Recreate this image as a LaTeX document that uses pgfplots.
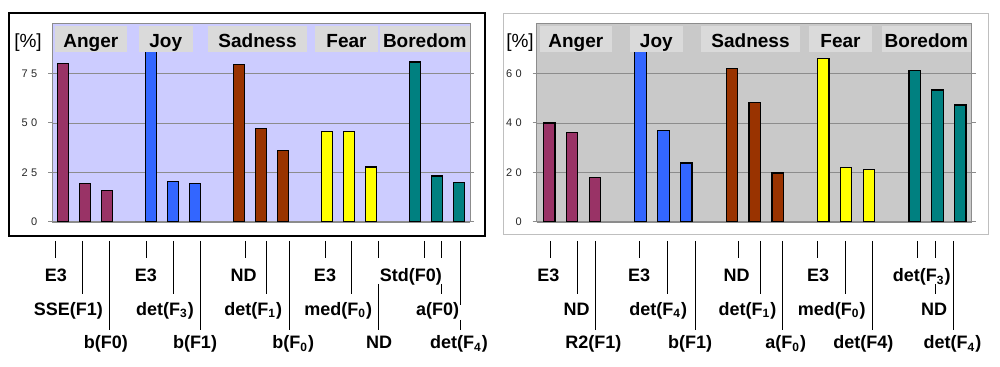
\documentclass[border=0pt]{standalone}
\usepackage{pgfplots}
\pgfplotsset{compat=1.18}
\usepackage{fontspec}
\setmainfont{Liberation Sans}
\newfontfamily\tickfont[LetterSpace=30]{Liberation Sans}
\definecolor{angerc}{HTML}{993366}
\definecolor{joyc}{HTML}{3366FF}
\definecolor{sadc}{HTML}{993300}
\definecolor{fearc}{HTML}{FFFF00}
\definecolor{borc}{HTML}{008080}
\definecolor{lavbg}{HTML}{CCCCFF}
\definecolor{graybg}{HTML}{C9C9C9}
\definecolor{boxc}{HTML}{DADADA}
\definecolor{axc}{HTML}{8C8C8C}
\newcommand\lab{\bfseries\fontsize{9}{10}\selectfont}
\newcommand\hdr{\bfseries\fontsize{9.5}{11}\selectfont}
\pgfplotsset{
  panel/.style={
    scale only axis, anchor=south west,
    height=99pt, ymin=0, xtick=\empty,
    axis line style={draw=axc, line width=0.5pt},
    ymajorgrids, grid style={draw=axc, line width=0.4pt},
    tick align=outside, major tick length=2pt,
    ytick style={draw=axc, line width=0.5pt},
    /pgf/number format/assume math mode=true,
    yticklabel style={font=\tickfont\fontsize{5.5}{6.5}\selectfont, text=black!85, xshift=-2pt},
  },
  bars/.style={ybar, bar width=0.5, bar shift=0pt, draw=black, line width=0.6pt, fill=#1},
}
\begin{document}
\begin{tikzpicture}
% panel frames
\begin{scope}[x=0.5pt,y=-0.5pt,shift={(0pt,183.5pt)}]
\draw[black, line width=0.9pt] (9,13) rectangle (485,236);
\draw[draw=black!25, line width=0.5pt] (503.3,13.3) rectangle (988.3,234.3);
\end{scope}
% left axis
\begin{axis}[panel, at={(26.15pt,72.5pt)}, width=208.85pt,
  xmin=-0.5, xmax=18.5, ymax=100, ytick={0,25,50,75},
  axis background/.style={fill=lavbg}]
\addplot[bars=angerc] coordinates {(0,80) (1,19.3) (2,15.8)};
\addplot[bars=joyc] coordinates {(4,86.4) (5,20.3) (6,19.3)};
\addplot[bars=sadc] coordinates {(8,79.6) (9,47.4) (10,36.1)};
\addplot[bars=fearc] coordinates {(12,45.8) (13,45.8) (14,27.8)};
\addplot[bars=borc] coordinates {(16,80.8) (17,23.2) (18,19.8)};
\end{axis}
% right axis
\begin{axis}[panel, at={(268.35pt,72.5pt)}, width=217.5pt,
  xmin=-0.55, xmax=18.5, ymax=80, ytick={0,20,40,60},
  axis background/.style={fill=graybg}]
\addplot[bars=angerc] coordinates {(0,40) (1,36) (2,18)};
\addplot[bars=joyc] coordinates {(4,69.1) (5,36.9) (6,23.8)};
\addplot[bars=sadc] coordinates {(8,62.1) (9,48.2) (10,19.8)};
\addplot[bars=fearc] coordinates {(12,66.1) (13,22) (14,21.1)};
\addplot[bars=borc] coordinates {(16,61.3) (17,53.3) (18,47.3)};
\end{axis}
\begin{scope}[x=0.5pt,y=-0.5pt,shift={(0pt,183.5pt)}]
% [%] labels
\node[font=\fontsize{9.5}{10}\selectfont, anchor=base] at (28,48) {[\%]};
\node[font=\fontsize{9.5}{10}\selectfont, anchor=base] at (520,48) {[\%]};
% header boxes left
\fill[boxc] (55,26) rectangle (126.7,52);
\fill[boxc] (138.7,26) rectangle (192.7,52);
\fill[boxc] (208.3,26) rectangle (306.7,52);
\fill[boxc] (315.3,26) rectangle (377.7,52);
\fill[boxc] (380,26) rectangle (469.5,52);
\node[font=\hdr, anchor=base] at (90.8,47.5) {Anger};
\node[font=\hdr, anchor=base] at (165.7,47.5) {Joy};
\node[font=\hdr, anchor=base] at (257.5,47.5) {Sadness};
\node[font=\hdr, anchor=base] at (346.5,47.5) {Fear};
\node[font=\hdr, anchor=base] at (424.7,47.5) {Boredom};
% header boxes right
\fill[boxc] (540,26) rectangle (611.7,51.7);
\fill[boxc] (630,26) rectangle (682.7,51.7);
\fill[boxc] (701,26) rectangle (800,51.7);
\fill[boxc] (809.3,26) rectangle (871.7,51.7);
\fill[boxc] (881.7,26) rectangle (971.2,51.7);
\node[font=\hdr, anchor=base] at (575.8,47.3) {Anger};
\node[font=\hdr, anchor=base] at (656.3,47.3) {Joy};
\node[font=\hdr, anchor=base] at (750.5,47.3) {Sadness};
\node[font=\hdr, anchor=base] at (840.5,47.3) {Fear};
\node[font=\hdr, anchor=base] at (926.4,47.3) {Boredom};
% leader lines
\begin{scope}[line width=0.5pt]
\draw (55.7,241) -- (55.7,258);
\draw (82.7,241) -- (82.7,294);
\draw (109.3,241) -- (109.3,330);
\draw (146.7,241) -- (146.7,258);
\draw (173.3,241) -- (173.3,294);
\draw (200.7,241) -- (200.7,330);
\draw (245,241) -- (245,258);
\draw (266.7,241) -- (266.7,294);
\draw (289.3,241) -- (289.3,330);
\draw (325,241) -- (325,258);
\draw (351.7,241) -- (351.7,294);
\draw (378.3,241) -- (378.3,258) (378.3,284) -- (378.3,330);
\draw (424,241) -- (424,258);
\draw (441.7,241) -- (441.7,258) (441.7,284) -- (441.7,294);
\draw (460,241) -- (460,305) (460,320) -- (460,330);
\draw (550,241) -- (550,258);
\draw (577.3,241) -- (577.3,294);
\draw (595.7,241) -- (595.7,330);
\draw (639.3,241) -- (639.3,258);
\draw (667.3,241) -- (667.3,294);
\draw (695,241) -- (695,330);
\draw (738.3,241) -- (738.3,258);
\draw (760.7,241) -- (760.7,294);
\draw (782.7,241) -- (782.7,330);
\draw (817.7,241) -- (817.7,258);
\draw (845,241) -- (845,294);
\draw (872.7,241) -- (872.7,330);
\draw (917.7,241) -- (917.7,258);
\draw (935.7,241) -- (935.7,258) (935.7,284) -- (935.7,294);
\draw (953.3,241) -- (953.3,330);
\end{scope}
\begin{scope}[every node/.style={font=\lab, anchor=base, inner sep=0pt}]
\node at (55.8,282) {E3};
\node at (68.3,315.5) {SSE(F1)};
\node at (105.8,349) {b(F0)};
\node at (145.8,282) {E3};
\node at (165,315.5) {det(F\textsubscript{3})};
\node at (195,349) {b(F1)};
\node at (243.7,282) {ND};
\node at (253.3,315.5) {det(F\textsubscript{1})};
\node at (293.3,349) {b(F\textsubscript{0})};
\node at (325,282) {E3};
\node at (338.3,315.5) {med(F\textsubscript{0})};
\node at (379,349) {ND};
\node at (410.8,282) {Std(F0)};
\node at (437.5,315.5) {a(F0)};
\node at (459,349) {det(F\textsubscript{4})};
\node at (548.3,282) {E3};
\node at (576.7,315.5) {ND};
\node at (593.3,349) {R2(F1)};
\node at (639.2,282) {E3};
\node at (658.3,315.5) {det(F\textsubscript{4})};
\node at (690,349) {b(F1)};
\node at (736.7,282) {ND};
\node at (747.5,315.5) {det(F\textsubscript{1})};
\node at (785.8,349) {a(F\textsubscript{0})};
\node at (818,282) {E3};
\node at (831.7,315.5) {med(F\textsubscript{0})};
\node at (863.3,349) {det(F4)};
\node at (921.7,282) {det(F\textsubscript{3})};
\node at (934,315.5) {ND};
\node at (952.5,349) {det(F\textsubscript{4})};
\end{scope}
\end{scope}
\pgfresetboundingbox
\path (0,0) rectangle (500pt,183.5pt);
\end{tikzpicture}
\end{document}
